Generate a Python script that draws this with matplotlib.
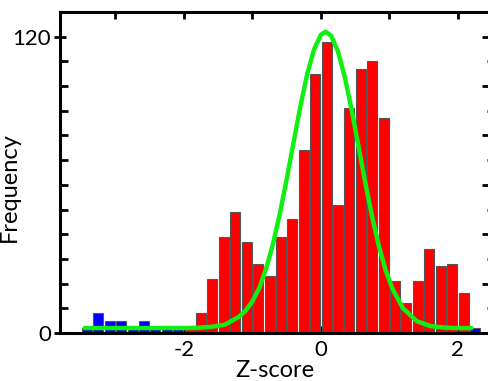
import matplotlib.pyplot as plt
import numpy as np
from matplotlib.ticker import MultipleLocator, FixedLocator

plt.rcParams['font.family'] = ['Lato', 'DejaVu Sans']

# histogram of Z-scores, bins of 1/6 starting at -3.5
bin_width = 1 / 6
low_start = -3.5
low_counts = [2, 8, 5, 5, 3, 5, 2, 3, 3]  # blue tail
mid_start = -2.0
mid_counts = [2, 8, 22, 39, 49, 37, 28, 23, 39, 46, 74, 105, 118,
              52, 91, 107, 110, 87, 21, 12, 21, 34, 27, 28, 16]  # red
high_start = 2.1667
high_counts = [2]  # blue tail

# fitted curve, points
fit_z = [-3.45, -2.4, -2.0, -1.8, -1.6, -1.4, -1.2, -1.1, -1.0, -0.9, -0.8,
         -0.7, -0.6, -0.5, -0.4, -0.3, -0.2, -0.1, 0.0, 0.07, 0.15, 0.25,
         0.35, 0.45, 0.55, 0.65, 0.75, 0.85, 0.95, 1.05, 1.2, 1.4, 1.6, 1.8,
         2.0, 2.2]
fit_y = [2.0, 2.0, 2.0, 2.1, 2.5, 3.4, 6.5, 9.0, 12.8, 18.2, 26.0,
         36.0, 48.2, 62.2, 77.0, 91.7, 104.8, 114.8, 120.8, 122.0, 120.4,
         114.0, 103.6, 90.3, 75.5, 60.7, 46.9, 34.9, 25.1, 17.6, 10.0, 4.8,
         2.8, 2.2, 2.0, 2.0]

fig = plt.figure(figsize=(4.88, 3.81), dpi=100)
ax = fig.add_axes([60 / 488, 1 - 333 / 381, 430 / 488, 321 / 381])

def centers(start, counts):
    return start + bin_width * (np.arange(len(counts)) + 0.5)

bw = bin_width * 0.88
ax.bar(centers(low_start, low_counts), low_counts, width=bw,
       color='#0000ff', edgecolor='#555555', linewidth=0.8, zorder=2)
ax.bar(centers(mid_start, mid_counts), mid_counts, width=bw,
       color='#ff0000', edgecolor='#555555', linewidth=0.8, zorder=2)
ax.bar(centers(high_start, high_counts), high_counts, width=bw,
       color='#0000ff', edgecolor='#555555', linewidth=0.8, zorder=2)
ax.plot(fit_z, fit_y, color='#11ee11', linewidth=3.2, zorder=3,
        solid_capstyle='round')

ax.set_xlim(-3.81, 2.47)
ax.set_ylim(0, 130)

for s in ax.spines.values():
    s.set_linewidth(2.2)

ax.xaxis.set_major_locator(FixedLocator([-2, 0, 2]))
ax.xaxis.set_minor_locator(FixedLocator([-3, -1, 1]))
ax.set_xticklabels(['-2', '0', '2'])
ax.tick_params(axis='x', which='both', direction='in', top=True, bottom=True,
               length=5, width=2, labelsize=16, pad=5)

ax.yaxis.set_major_locator(FixedLocator([0, 120]))
ax.yaxis.set_minor_locator(MultipleLocator(10))
ax.tick_params(axis='y', which='major', direction='inout', length=9,
               width=2, labelsize=16, right=False, pad=2)
ax.tick_params(axis='y', which='minor', direction='in', length=6,
               width=2, right=False)

sec = ax.secondary_yaxis('right')
sec.yaxis.set_major_locator(MultipleLocator(20))
sec.yaxis.set_minor_locator(MultipleLocator(10))
sec.tick_params(which='major', direction='in', length=6, width=2,
                labelright=False)
sec.tick_params(which='minor', direction='in', length=2, width=2)
sec.spines['right'].set_linewidth(2.2)

ax.set_xlabel('Z-score', fontsize=17, labelpad=0)
ax.set_ylabel('Frequency', fontsize=17)
ax.yaxis.set_label_coords(-0.093, 0.455)

fig.savefig('out.png', dpi=100)
